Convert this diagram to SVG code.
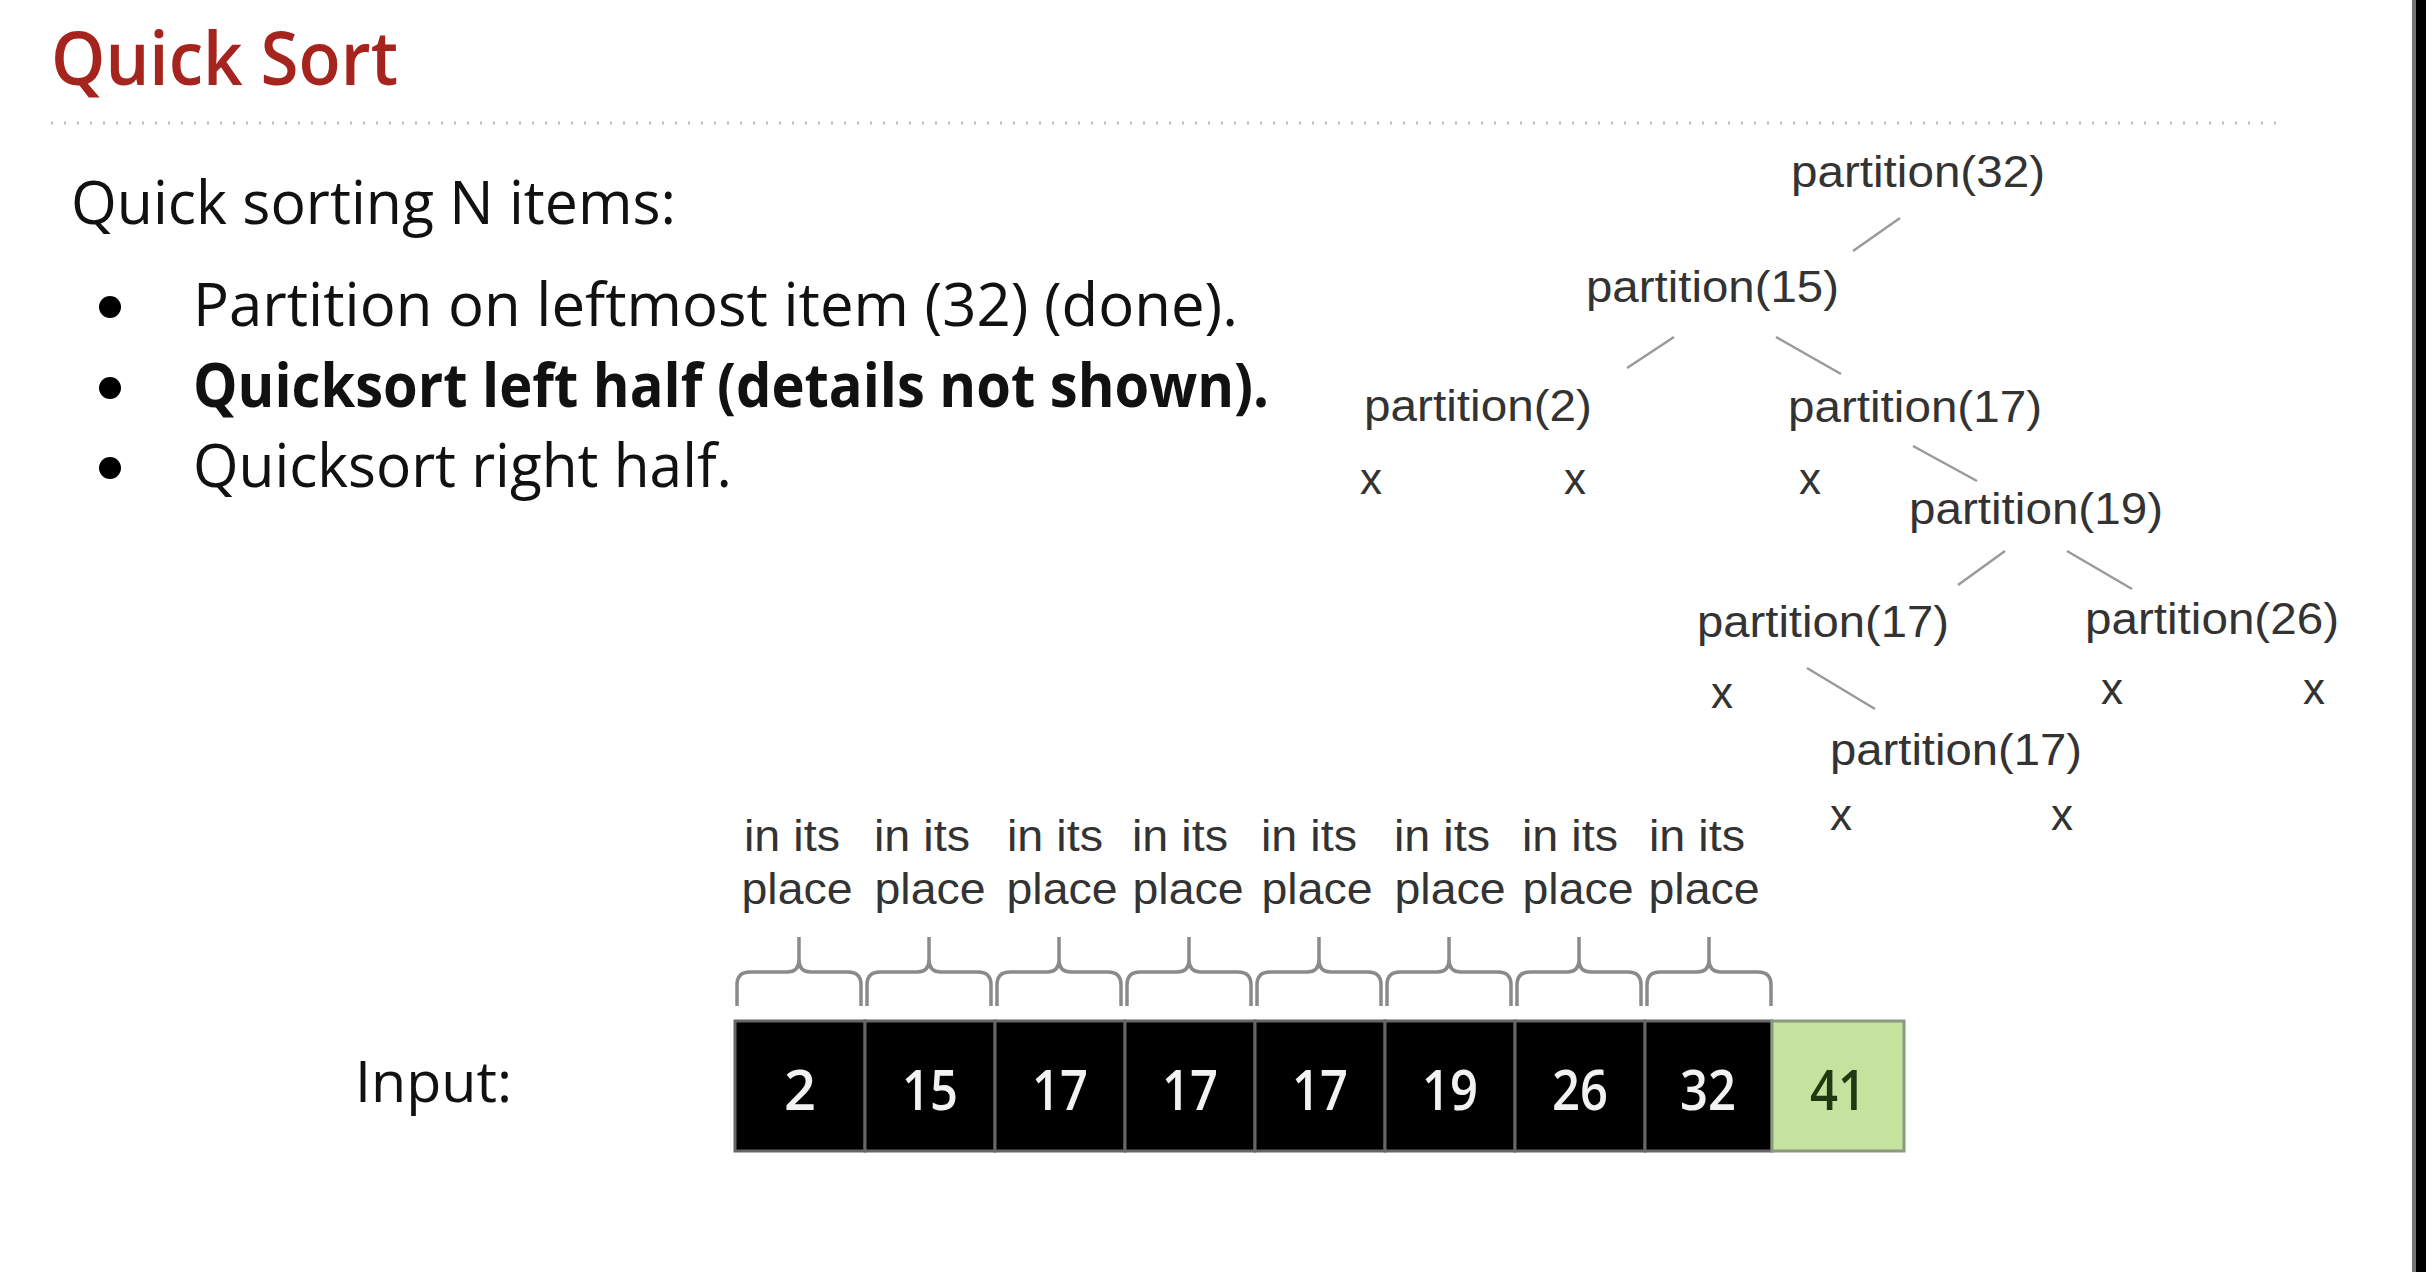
<svg xmlns="http://www.w3.org/2000/svg" width="2426" height="1272" viewBox="0 0 2426 1272">
<style>
.body{font-family:"Open Sans","Noto Sans",sans-serif;fill:#111;}
.tree{font-family:"Liberation Sans",Arial,sans-serif;font-size:44px;fill:#333;}
.lbl{font-family:"Liberation Sans",Arial,sans-serif;font-size:44px;fill:#333;text-anchor:middle;}
.edge{stroke:#9a9a9a;stroke-width:2.5;fill:none;}
.brace{stroke:#8a8a8a;stroke-width:3.5;fill:none;}
.cell{fill:#000;stroke:#666;stroke-width:3;}
.num{font-family:"Open Sans","Noto Sans",sans-serif;font-size:56px;font-weight:600;fill:#f2f2f2;text-anchor:middle;}
.num-dark{fill:#1f3a10;}
</style>
<rect x="0" y="0" width="2426" height="1272" fill="#fff"/>
<rect x="2412" y="0" width="4" height="1272" fill="#777"/>
<rect x="2416" y="0" width="10" height="1272" fill="#000"/>

<g id="title">
<text x="51" y="85" font-family="Open Sans, Noto Sans, sans-serif" font-size="74" font-weight="600" fill="#a6241e" textLength="347" lengthAdjust="spacingAndGlyphs">Quick Sort</text>
<line x1="51" y1="123" x2="2279" y2="123" stroke="#b8c0cc" stroke-width="3" stroke-dasharray="2 11"/>
</g>

<g id="bullets">
<text class="body" x="71" y="224" font-size="61" textLength="605" lengthAdjust="spacingAndGlyphs">Quick sorting N items:</text>
<circle cx="110" cy="307" r="11" fill="#000"/>
<text class="body" x="193" y="326" font-size="61" textLength="1045" lengthAdjust="spacingAndGlyphs">Partition on leftmost item (32) (done).</text>
<circle cx="110" cy="388" r="11" fill="#000"/>
<text class="body" x="193" y="407" font-size="61" font-weight="bold" textLength="1076" lengthAdjust="spacingAndGlyphs">Quicksort left half (details not shown).</text>
<circle cx="110" cy="468" r="11" fill="#000"/>
<text class="body" x="193" y="487" font-size="61" textLength="539" lengthAdjust="spacingAndGlyphs">Quicksort right half.</text>
</g>

<g id="connectors">
<line class="edge" x1="1900" y1="218" x2="1853" y2="251"/>
<line class="edge" x1="1674" y1="337" x2="1627" y2="368"/>
<line class="edge" x1="1776" y1="337" x2="1841" y2="374"/>
<line class="edge" x1="1913" y1="446" x2="1977" y2="481"/>
<line class="edge" x1="2005" y1="551" x2="1958" y2="585"/>
<line class="edge" x1="2067" y1="551" x2="2132" y2="589"/>
<line class="edge" x1="1807" y1="668" x2="1875" y2="709"/>
</g>

<g id="node-p32"><text class="tree" x="1791" y="187" textLength="254" lengthAdjust="spacingAndGlyphs">partition(32)</text></g>
<g id="node-p15"><text class="tree" x="1586" y="302" textLength="253" lengthAdjust="spacingAndGlyphs">partition(15)</text></g>
<g id="node-p2"><text class="tree" x="1364" y="421" textLength="228" lengthAdjust="spacingAndGlyphs">partition(2)</text></g>
<g id="node-p17a"><text class="tree" x="1788" y="422" textLength="254" lengthAdjust="spacingAndGlyphs">partition(17)</text></g>
<g id="node-x1"><text class="lbl" x="1371" y="494">x</text></g>
<g id="node-x2"><text class="lbl" x="1575" y="494">x</text></g>
<g id="node-x3"><text class="lbl" x="1810" y="494">x</text></g>
<g id="node-p19"><text class="tree" x="1909" y="524" textLength="254" lengthAdjust="spacingAndGlyphs">partition(19)</text></g>
<g id="node-p17b"><text class="tree" x="1697" y="637" textLength="252" lengthAdjust="spacingAndGlyphs">partition(17)</text></g>
<g id="node-p26"><text class="tree" x="2085" y="634" textLength="254" lengthAdjust="spacingAndGlyphs">partition(26)</text></g>
<g id="node-x4"><text class="lbl" x="1722" y="708">x</text></g>
<g id="node-x5"><text class="lbl" x="2112" y="704">x</text></g>
<g id="node-x6"><text class="lbl" x="2314" y="704">x</text></g>
<g id="node-p17c"><text class="tree" x="1830" y="765" textLength="252" lengthAdjust="spacingAndGlyphs">partition(17)</text></g>
<g id="node-x7"><text class="lbl" x="1841" y="830">x</text></g>
<g id="node-x8"><text class="lbl" x="2062" y="830">x</text></g>

<g id="labels">
<text class="lbl" x="792" y="851" textLength="96" lengthAdjust="spacingAndGlyphs">in its</text>
<text class="lbl" x="797" y="904" textLength="111" lengthAdjust="spacingAndGlyphs">place</text>
<text class="lbl" x="922" y="851" textLength="96" lengthAdjust="spacingAndGlyphs">in its</text>
<text class="lbl" x="930" y="904" textLength="111" lengthAdjust="spacingAndGlyphs">place</text>
<text class="lbl" x="1055" y="851" textLength="96" lengthAdjust="spacingAndGlyphs">in its</text>
<text class="lbl" x="1062" y="904" textLength="111" lengthAdjust="spacingAndGlyphs">place</text>
<text class="lbl" x="1180" y="851" textLength="96" lengthAdjust="spacingAndGlyphs">in its</text>
<text class="lbl" x="1188" y="904" textLength="111" lengthAdjust="spacingAndGlyphs">place</text>
<text class="lbl" x="1309" y="851" textLength="96" lengthAdjust="spacingAndGlyphs">in its</text>
<text class="lbl" x="1317" y="904" textLength="111" lengthAdjust="spacingAndGlyphs">place</text>
<text class="lbl" x="1442" y="851" textLength="96" lengthAdjust="spacingAndGlyphs">in its</text>
<text class="lbl" x="1450" y="904" textLength="111" lengthAdjust="spacingAndGlyphs">place</text>
<text class="lbl" x="1570" y="851" textLength="96" lengthAdjust="spacingAndGlyphs">in its</text>
<text class="lbl" x="1578" y="904" textLength="111" lengthAdjust="spacingAndGlyphs">place</text>
<text class="lbl" x="1697" y="851" textLength="96" lengthAdjust="spacingAndGlyphs">in its</text>
<text class="lbl" x="1704" y="904" textLength="111" lengthAdjust="spacingAndGlyphs">place</text>
</g>

<defs>
<path id="br" d="M2,1006 V985 Q2,972 15,972 H52 Q64,972 64,960 V937 M64,937 V960 Q64,972 76,972 H113 Q126,972 126,985 V1006"/>
</defs>
<g id="braces">
<use href="#br" class="brace" x="735"/>
<use href="#br" class="brace" x="865"/>
<use href="#br" class="brace" x="995"/>
<use href="#br" class="brace" x="1125"/>
<use href="#br" class="brace" x="1255"/>
<use href="#br" class="brace" x="1385"/>
<use href="#br" class="brace" x="1515"/>
<use href="#br" class="brace" x="1645"/>
</g>

<g id="input-label">
<text class="body" x="355" y="1102" font-size="56" textLength="157" lengthAdjust="spacingAndGlyphs">Input:</text>
</g>

<g id="array">
<rect class="cell" x="735" y="1021" width="130" height="130"/>
<rect class="cell" x="865" y="1021" width="130" height="130"/>
<rect class="cell" x="995" y="1021" width="130" height="130"/>
<rect class="cell" x="1125" y="1021" width="130" height="130"/>
<rect class="cell" x="1255" y="1021" width="130" height="130"/>
<rect class="cell" x="1385" y="1021" width="130" height="130"/>
<rect class="cell" x="1515" y="1021" width="130" height="130"/>
<rect class="cell" x="1645" y="1021" width="127" height="130"/>
<rect x="1772" y="1021" width="132" height="130" fill="#c5e29e" stroke="#8a9a80" stroke-width="3"/>
<text class="num" x="800" y="1110">2</text>
<text class="num" x="930" y="1110" textLength="56" lengthAdjust="spacingAndGlyphs">15</text>
<text class="num" x="1060" y="1110" textLength="56" lengthAdjust="spacingAndGlyphs">17</text>
<text class="num" x="1190" y="1110" textLength="56" lengthAdjust="spacingAndGlyphs">17</text>
<text class="num" x="1320" y="1110" textLength="56" lengthAdjust="spacingAndGlyphs">17</text>
<text class="num" x="1450" y="1110" textLength="56" lengthAdjust="spacingAndGlyphs">19</text>
<text class="num" x="1580" y="1110" textLength="56" lengthAdjust="spacingAndGlyphs">26</text>
<text class="num" x="1708" y="1110" textLength="56" lengthAdjust="spacingAndGlyphs">32</text>
<text class="num num-dark" x="1838" y="1110" textLength="56" lengthAdjust="spacingAndGlyphs">41</text>
</g>
</svg>
